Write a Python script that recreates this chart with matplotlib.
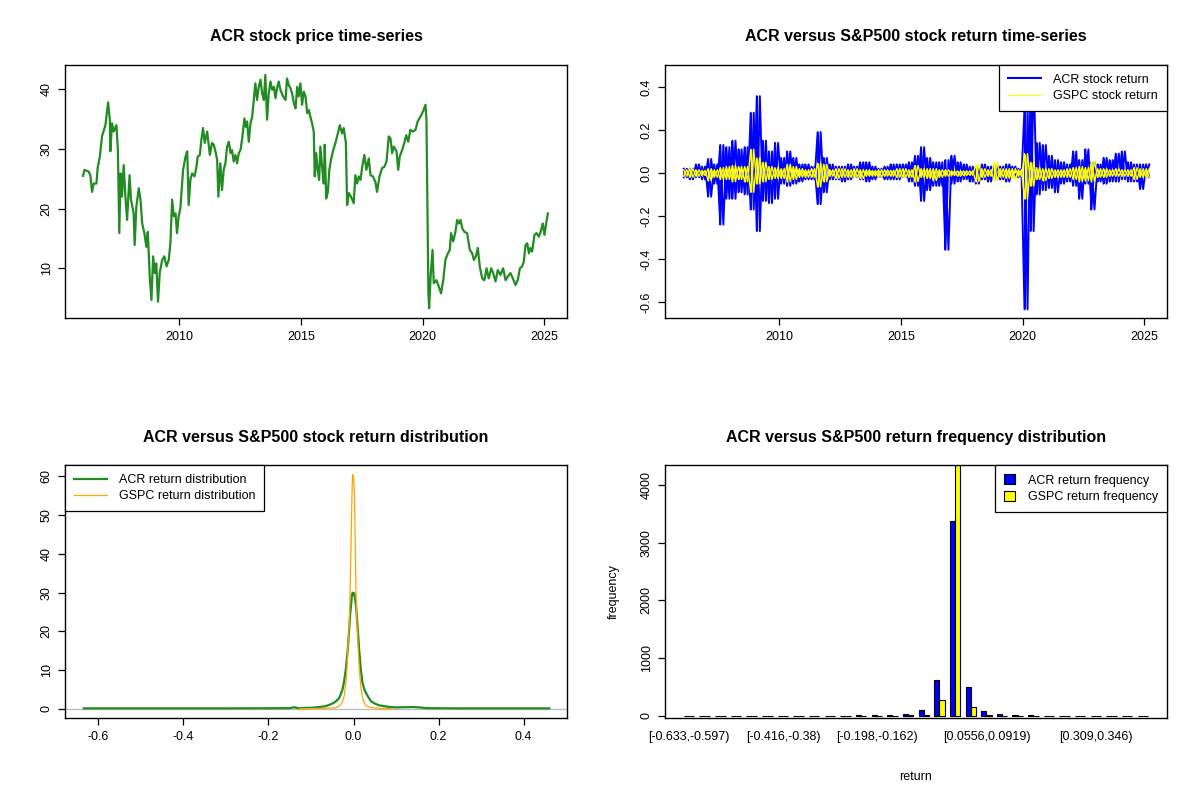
import matplotlib
matplotlib.use("Agg")
import matplotlib.pyplot as plt
import numpy as np
from matplotlib.lines import Line2D
from matplotlib.patches import Patch

plt.rcParams["font.family"] = ["Liberation Sans", "DejaVu Sans"]

# ACR closing price (fractional year, USD)
price_year = [
    2006.04, 2006.10, 2006.27, 2006.34, 2006.41, 2006.48, 2006.59, 2006.64, 2006.73, 2006.82,
    2006.96, 2007.07, 2007.14, 2007.16, 2007.23, 2007.30, 2007.41, 2007.47, 2007.53, 2007.58,
    2007.64, 2007.71, 2007.78, 2007.85, 2007.95, 2008.01, 2008.12, 2008.16, 2008.23, 2008.33,
    2008.40, 2008.47, 2008.56, 2008.64, 2008.70, 2008.78, 2008.85, 2008.92, 2008.99, 2009.05,
    2009.12, 2009.19, 2009.29, 2009.38, 2009.47, 2009.56, 2009.63, 2009.70, 2009.77, 2009.84,
    2009.90, 2009.97, 2010.04, 2010.15, 2010.25, 2010.32, 2010.38, 2010.45, 2010.52, 2010.62,
    2010.70, 2010.75, 2010.84, 2010.90, 2010.97, 2011.04, 2011.14, 2011.25, 2011.34, 2011.41,
    2011.48, 2011.55, 2011.60, 2011.68, 2011.75, 2011.82, 2011.89, 2011.96, 2012.03, 2012.10,
    2012.16, 2012.23, 2012.30, 2012.37, 2012.44, 2012.51, 2012.58, 2012.67, 2012.73, 2012.78,
    2012.85, 2012.92, 2012.99, 2013.05, 2013.12, 2013.19, 2013.26, 2013.33, 2013.40, 2013.47,
    2013.53, 2013.60, 2013.67, 2013.74, 2013.81, 2013.88, 2013.95, 2014.01, 2014.08, 2014.15,
    2014.26, 2014.36, 2014.42, 2014.49, 2014.56, 2014.63, 2014.70, 2014.77, 2014.84, 2014.90,
    2014.97, 2015.04, 2015.11, 2015.18, 2015.25, 2015.32, 2015.38, 2015.45, 2015.52, 2015.56,
    2015.62, 2015.68, 2015.74, 2015.79, 2015.86, 2015.93, 2015.97, 2016.03, 2016.10, 2016.16,
    2016.23, 2016.32, 2016.41, 2016.51, 2016.59, 2016.68, 2016.75, 2016.84, 2016.89, 2016.96,
    2017.05, 2017.16, 2017.23, 2017.30, 2017.37, 2017.44, 2017.51, 2017.60, 2017.68, 2017.78,
    2017.85, 2017.95, 2018.05, 2018.12, 2018.22, 2018.33, 2018.42, 2018.51, 2018.60, 2018.67,
    2018.74, 2018.81, 2018.92, 2018.99, 2019.05, 2019.15, 2019.22, 2019.32, 2019.40, 2019.49,
    2019.60, 2019.70, 2019.79, 2019.90, 2020.01, 2020.11, 2020.15, 2020.19, 2020.23, 2020.26,
    2020.32, 2020.40, 2020.45, 2020.56, 2020.66, 2020.75, 2020.84, 2020.93, 2021.03, 2021.11,
    2021.16, 2021.25, 2021.34, 2021.41, 2021.48, 2021.55, 2021.62, 2021.71, 2021.82, 2021.93,
    2022.03, 2022.10, 2022.18, 2022.26, 2022.34, 2022.44, 2022.53, 2022.62, 2022.71, 2022.81,
    2022.89, 2022.99, 2023.08, 2023.19, 2023.30, 2023.40, 2023.49, 2023.60, 2023.70, 2023.81,
    2023.90, 2023.99, 2024.08, 2024.15, 2024.22, 2024.29, 2024.36, 2024.42, 2024.49, 2024.59,
    2024.67, 2024.77, 2024.84, 2024.93, 2025.00, 2025.08, 2025.14,
]
price_value = [
    25.5, 26.5, 26.2, 25.6, 22.8, 24.2, 24.2, 26.8, 28.7, 32.1,
    34.0, 37.8, 34.9, 29.6, 34.3, 32.9, 34.0, 30.0, 15.9, 25.9,
    22.0, 27.3, 22.0, 18.1, 25.6, 21.5, 19.2, 13.9, 20.3, 23.4,
    21.5, 17.5, 15.9, 13.6, 16.1, 8.6, 4.7, 12.0, 9.2, 10.8,
    4.4, 9.2, 11.4, 12.0, 10.3, 11.4, 14.2, 21.5, 18.7, 19.2,
    15.9, 18.7, 20.1, 26.5, 28.7, 29.6, 20.6, 24.8, 25.9, 25.4,
    27.0, 28.7, 29.0, 31.5, 33.5, 31.0, 32.9, 29.0, 31.0, 30.7,
    29.6, 28.2, 22.0, 27.6, 23.1, 26.5, 27.6, 30.4, 31.2, 29.3,
    29.8, 27.9, 29.0, 27.6, 29.3, 29.8, 31.8, 35.1, 33.7, 34.6,
    31.2, 34.3, 35.4, 37.9, 41.0, 38.2, 40.4, 41.6, 39.3, 38.2,
    42.4, 34.9, 39.3, 41.3, 39.9, 40.4, 38.5, 40.2, 41.3, 39.9,
    38.8, 38.2, 41.8, 40.7, 40.2, 39.3, 37.7, 36.8, 40.4, 38.8,
    41.0, 37.4, 39.6, 38.8, 36.0, 36.5, 35.4, 34.3, 32.9, 25.4,
    29.3, 26.5, 24.8, 30.4, 27.0, 24.2, 30.7, 21.7, 22.8, 26.5,
    28.2, 29.8, 31.0, 32.6, 34.0, 32.6, 33.5, 31.0, 20.6, 22.6,
    22.0, 20.9, 25.6, 24.2, 25.4, 24.8, 27.0, 29.0, 26.5, 28.4,
    25.6, 25.4, 24.5, 22.8, 25.4, 26.8, 27.0, 27.9, 32.1, 31.8,
    29.3, 30.4, 29.6, 26.5, 28.7, 29.8, 30.7, 32.3, 31.2, 33.2,
    32.9, 33.2, 34.6, 35.4, 36.3, 37.4, 34.9, 19.8, 5.8, 3.3,
    8.6, 13.1, 7.5, 8.0, 6.9, 5.8, 8.0, 11.4, 12.5, 13.1,
    15.9, 14.5, 16.1, 18.1, 17.5, 18.1, 16.7, 16.1, 15.9, 13.1,
    12.5, 11.4, 12.0, 13.4, 10.3, 8.3, 8.0, 10.0, 8.3, 10.0,
    9.2, 7.8, 9.7, 8.9, 10.0, 8.0, 8.6, 9.2, 8.3, 7.2,
    8.0, 10.0, 10.3, 11.1, 13.9, 14.2, 12.5, 13.4, 12.8, 15.6,
    15.9, 15.3, 16.1, 17.5, 15.6, 17.8, 19.2,
]

# daily returns summarised per quarter: highest and lowest return seen
ret_start = 2006.07
ret_step = 0.25
acr_ret_high = [
    0.02, 0.02, 0.04, 0.03, 0.065, 0.04, 0.13, 0.12, 0.15, 0.11,
    0.12, 0.28, 0.357, 0.15, 0.10, 0.14, 0.07, 0.10, 0.07, 0.04,
    0.04, 0.03, 0.19, 0.07, 0.04, 0.03, 0.03, 0.04, 0.03, 0.05,
    0.05, 0.03, 0.02, 0.03, 0.04, 0.04, 0.04, 0.05, 0.08, 0.12,
    0.07, 0.05, 0.05, 0.06, 0.08, 0.05, 0.04, 0.03, 0.03, 0.04,
    0.03, 0.04, 0.03, 0.04, 0.03, 0.02, 0.30, 0.458, 0.14, 0.13,
    0.08, 0.06, 0.05, 0.04, 0.10, 0.06, 0.11, 0.05, 0.04, 0.07,
    0.06, 0.09, 0.10, 0.05, 0.04, 0.04, 0.04,
]
acr_ret_low = [
    -0.02, -0.03, -0.02, -0.03, -0.11, -0.05, -0.24, -0.12, -0.12, -0.09,
    -0.10, -0.17, -0.27, -0.13, -0.14, -0.12, -0.05, -0.06, -0.05, -0.04,
    -0.03, -0.03, -0.145, -0.09, -0.03, -0.03, -0.04, -0.03, -0.02, -0.03,
    -0.04, -0.03, -0.02, -0.03, -0.03, -0.03, -0.02, -0.04, -0.06, -0.13,
    -0.08, -0.06, -0.06, -0.357, -0.05, -0.04, -0.03, -0.04, -0.05, -0.03,
    -0.04, -0.03, -0.03, -0.04, -0.02, -0.02, -0.634, -0.27, -0.10, -0.08,
    -0.07, -0.09, -0.05, -0.04, -0.06, -0.12, -0.05, -0.17, -0.04, -0.05,
    -0.04, -0.04, -0.03, -0.04, -0.04, -0.075, -0.02,
]
gspc_ret_high = [
    0.015, 0.02, 0.015, 0.012, 0.02, 0.015, 0.025, 0.03, 0.035, 0.03,
    0.03, 0.11, 0.07, 0.05, 0.03, 0.025, 0.02, 0.04, 0.03, 0.02,
    0.015, 0.02, 0.045, 0.04, 0.015, 0.02, 0.02, 0.015, 0.02, 0.015,
    0.015, 0.012, 0.015, 0.015, 0.012, 0.02, 0.02, 0.015, 0.035, 0.02,
    0.02, 0.02, 0.015, 0.015, 0.01, 0.01, 0.01, 0.01, 0.04, 0.02,
    0.015, 0.05, 0.02, 0.02, 0.02, 0.015, 0.09, 0.05, 0.025, 0.02,
    0.02, 0.015, 0.015, 0.02, 0.025, 0.03, 0.025, 0.055, 0.02, 0.02,
    0.015, 0.02, 0.015, 0.015, 0.025, 0.02, 0.02,
]
gspc_ret_low = [
    -0.015, -0.02, -0.015, -0.012, -0.035, -0.02, -0.03, -0.03, -0.04, -0.03,
    -0.04, -0.09, -0.05, -0.04, -0.03, -0.025, -0.025, -0.04, -0.03, -0.02,
    -0.02, -0.02, -0.065, -0.04, -0.015, -0.025, -0.02, -0.02, -0.02, -0.025,
    -0.015, -0.015, -0.02, -0.015, -0.015, -0.02, -0.02, -0.02, -0.04, -0.02,
    -0.025, -0.035, -0.02, -0.015, -0.012, -0.015, -0.012, -0.01, -0.04, -0.02,
    -0.015, -0.035, -0.02, -0.025, -0.03, -0.015, -0.12, -0.06, -0.03, -0.035,
    -0.025, -0.02, -0.02, -0.02, -0.03, -0.04, -0.035, -0.04, -0.02, -0.02,
    -0.015, -0.015, -0.015, -0.015, -0.03, -0.02, -0.02,
]

# kernel density of the returns
acr_dens_x = [
    -0.634, -0.30, -0.15, -0.14, -0.13, -0.10, -0.08, -0.066, -0.056, -0.046,
    -0.040, -0.034, -0.030, -0.026, -0.022, -0.018, -0.014, -0.010, -0.008, -0.006,
    -0.004, -0.002, 0.000, 0.002, 0.004, 0.006, 0.008, 0.010, 0.013, 0.017,
    0.021, 0.025, 0.029, 0.035, 0.041, 0.050, 0.061, 0.073, 0.085, 0.10,
    0.12, 0.14, 0.16, 0.17, 0.25, 0.46,
]
acr_dens = [
    0.15, 0.15, 0.2, 0.45, 0.2, 0.3, 0.5, 0.7, 1.1, 1.6,
    2.1, 2.8, 3.8, 5.0, 7.2, 10.3, 14.7, 20.8, 24.3, 26.5,
    29.0, 30.0, 29.5, 29.8, 28.0, 26.5, 23.5, 20.5, 15.6, 10.3,
    6.8, 5.2, 4.2, 3.0, 2.0, 1.4, 0.9, 0.7, 0.5, 0.4,
    0.45, 0.5, 0.35, 0.2, 0.15, 0.15,
]
gspc_dens_x = [
    -0.128, -0.10, -0.08, -0.06, -0.050, -0.042, -0.036, -0.030, -0.026, -0.022,
    -0.018, -0.015, -0.013, -0.010, -0.008, -0.006, -0.005, -0.004, -0.003, -0.002,
    -0.001, 0.000, 0.001, 0.002, 0.003, 0.004, 0.0055, 0.007, 0.008, 0.011,
    0.013, 0.017, 0.021, 0.025, 0.029, 0.036, 0.045, 0.06, 0.075, 0.092,
]
gspc_dens = [
    0.05, 0.1, 0.15, 0.2, 0.25, 0.3, 0.6, 1.1, 2.0, 3.3,
    6.8, 11.2, 16.4, 21.7, 30.5, 41.0, 47.6, 53.0, 58.0, 60.4,
    60.2, 59.5, 58.0, 55.8, 50.0, 42.6, 31.4, 26.0, 22.6, 15.6,
    11.2, 5.9, 2.9, 1.6, 0.9, 0.5, 0.3, 0.15, 0.1, 0.05,
]

# return frequency table, 30 bins from -0.633 to 0.455
freq_acr = [1, 0, 0, 0, 0, 0, 0, 0, 0, 1, 1, 10, 12, 20, 40, 109, 615, 3381, 506, 92,
            40, 18, 12, 4, 2, 1, 1, 0, 0, 2]
freq_gspc = [0, 0, 0, 0, 0, 0, 0, 0, 0, 0, 0, 2, 3, 5, 10, 15, 282, 4340, 161, 15,
             5, 2, 1, 0, 0, 0, 0, 0, 0, 0]
freq_labels = ["[-0.633,-0.597)", "[-0.416,-0.38)", "[-0.198,-0.162)",
               "[0.0556,0.0919)", "[0.309,0.346)"]
freq_label_bins = [0, 6, 12, 19, 26]

FS = 9
GREEN = "#228B22"


def style_axes(ax):
    for s in ax.spines.values():
        s.set_linewidth(1.0)
        s.set_color("black")
    ax.tick_params(direction="out", length=5, width=0.9, labelsize=FS, pad=4, colors="black")
    ax.tick_params(axis="y", labelrotation=90)
    for lab in ax.get_yticklabels():
        lab.set_va("center")


def r_legend(ax, handles, labels, loc, **kw):
    opts = dict(handlelength=2.6, borderpad=0.7, labelspacing=0.35, handletextpad=1.0)
    opts.update(kw)
    leg = ax.legend(handles, labels, loc=loc, fontsize=FS, frameon=True, fancybox=False,
                    framealpha=1, edgecolor="black", borderaxespad=0, **opts)
    leg.get_frame().set_linewidth(0.9)
    return leg


def draw_returns(ax, start, step, hi, lo, color, lw):
    # each quarter: a vertical stroke from its low to its high, cross-hatched
    # between neighbouring quarters so the band reads as a dense daily trace
    t = start + step * np.arange(len(hi))
    ax.vlines(t, lo, hi, color=color, lw=lw)
    x = np.column_stack([t, t + step / 2]).ravel()
    ax.plot(x, np.column_stack([hi, lo]).ravel(), color=color, lw=lw)
    ax.plot(x, np.column_stack([lo, hi]).ravel(), color=color, lw=lw)


fig = plt.figure(figsize=(12, 8), dpi=100)
fig.patch.set_facecolor("white")

ax1 = fig.add_axes([0.0544, 0.6025, 0.4178, 0.3163])
ax2 = fig.add_axes([0.5544, 0.6025, 0.4178, 0.3163])
ax3 = fig.add_axes([0.0544, 0.1021, 0.4178, 0.3163])
ax4 = fig.add_axes([0.5544, 0.1021, 0.4178, 0.3163])

xlim_years = (2005.31, 2025.91)
year_ticks = [2010, 2015, 2020, 2025]

# top-left: price
ax1.plot(price_year, price_value, color=GREEN, lw=1.6)
ax1.set_xlim(*xlim_years)
ax1.set_ylim(1.67, 44.07)
ax1.set_xticks(year_ticks)
ax1.set_yticks([10, 20, 30, 40])
ax1.set_title("ACR stock price time-series", fontsize=11.5, fontweight="bold", pad=17)
style_axes(ax1)

# top-right: returns
draw_returns(ax2, ret_start, ret_step, acr_ret_high, acr_ret_low, "blue", 1.4)
draw_returns(ax2, ret_start, ret_step, gspc_ret_high, gspc_ret_low, "yellow", 1.0)
ax2.set_xlim(*xlim_years)
ax2.set_ylim(-0.674, 0.502)
ax2.set_xticks(year_ticks)
ax2.set_yticks([-0.6, -0.4, -0.2, 0.0, 0.2, 0.4])
ax2.set_yticklabels(["-0.6", "-0.4", "-0.2", "0.0", "0.2", "0.4"])
ax2.set_title("ACR versus S&P500 stock return time-series", fontsize=11.5, fontweight="bold", pad=17)
style_axes(ax2)
r_legend(ax2, [Line2D([], [], color="blue", lw=1.5), Line2D([], [], color="yellow", lw=0.8)],
         ["ACR stock return", "GSPC stock return"], "upper right")

# bottom-left: densities
ax3.axhline(0, color="#BEBEBE", lw=1.0, zorder=1)
ax3.plot(acr_dens_x, acr_dens, color=GREEN, lw=1.6, zorder=2)
ax3.plot(gspc_dens_x, gspc_dens, color="orange", lw=0.9, zorder=3)
ax3.set_xlim(-0.6776, 0.501)
dmax = max(gspc_dens)
ax3.set_ylim(-0.04 * dmax, 1.04 * dmax)
ax3.set_xticks([-0.6, -0.4, -0.2, 0.0, 0.2, 0.4])
ax3.set_xticklabels(["-0.6", "-0.4", "-0.2", "0.0", "0.2", "0.4"])
ax3.set_yticks([0, 10, 20, 30, 40, 50, 60])
ax3.set_title("ACR versus S&P500 stock return distribution", fontsize=11.5, fontweight="bold", pad=17)
style_axes(ax3)
r_legend(ax3, [Line2D([], [], color=GREEN, lw=1.6), Line2D([], [], color="orange", lw=0.9)],
         ["ACR return distribution", "GSPC return distribution"], "upper left")

# bottom-right: grouped frequency bars
n_bins = len(freq_acr)
left = 1 + 3 * np.arange(n_bins)
ax4.bar(left, freq_acr, width=1, align="edge", color="blue", edgecolor="black", lw=0.8)
ax4.bar(left + 1, freq_gspc, width=1, align="edge", color="yellow", edgecolor="black", lw=0.8)
span = 3 * n_bins - 1
ax4.set_xlim(1 - 0.04 * span, 3 * n_bins + 0.04 * span)
fmax = max(max(freq_acr), max(freq_gspc))
ax4.set_ylim(-0.01 * fmax, fmax)
ax4.set_yticks([0, 1000, 2000, 3000, 4000])
ax4.set_xticks(left[freq_label_bins] + 1)
ax4.set_xticklabels(freq_labels)
ax4.set_title("ACR versus S&P500 return frequency distribution", fontsize=11.5, fontweight="bold", pad=17)
style_axes(ax4)
ax4.tick_params(axis="x", length=0, pad=9)
ax4.set_xlabel("return", fontsize=FS, labelpad=20)
ax4.set_ylabel("frequency", fontsize=FS, labelpad=15)
r_legend(ax4, [Patch(facecolor="blue", edgecolor="black", lw=0.8),
               Patch(facecolor="yellow", edgecolor="black", lw=0.8)],
         ["ACR return frequency", "GSPC return frequency"], "upper right",
         handlelength=0.9, handleheight=0.9, handletextpad=1.0)

fig.savefig("out.png", dpi=100, facecolor="white")
